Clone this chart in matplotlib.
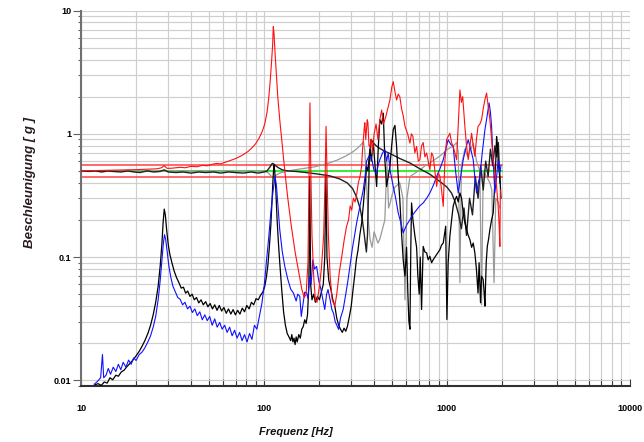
import numpy as np
import matplotlib
matplotlib.use("Agg")
import matplotlib.pyplot as plt
from matplotlib.ticker import LogLocator, FixedLocator, NullFormatter

plt.rcParams['font.family'] = ['Liberation Sans', 'DejaVu Sans']

# tolerance band and reference (g)
limit_hi = 0.56
limit_lo = 0.45
reference = 0.5
band_f = [10, 2000]

# control channel (black, smooth)
ctrl = [(10, 0.5), (11, 0.495), (12, 0.5), (13, 0.49), (14, 0.5), (15, 0.495), (16.5, 0.49),
        (18, 0.5), (19.5, 0.49), (21, 0.485), (23, 0.5), (25, 0.49), (27, 0.495), (28.5, 0.51),
        (30, 0.49), (33, 0.485), (36, 0.49), (40, 0.48), (44, 0.49), (48, 0.485), (53, 0.49),
        (58, 0.48), (64, 0.49), (70, 0.485), (77, 0.48), (85, 0.49), (93, 0.48), (100, 0.49),
        (104, 0.5), (108, 0.54), (111, 0.575), (113, 0.57), (116, 0.55), (120, 0.53), (126, 0.51),
        (135, 0.5), (150, 0.495), (170, 0.485), (200, 0.47), (230, 0.455), (260, 0.43), (285, 0.4),
        (305, 0.36), (320, 0.31), (335, 0.25), (345, 0.2), (352, 0.16), (358, 0.13), (363, 0.11),
        (368, 0.15), (373, 0.35), (378, 0.7), (385, 0.9), (395, 0.85), (410, 0.8), (430, 0.76),
        (460, 0.72), (500, 0.68), (553, 0.63), (628, 0.58), (712, 0.52), (807, 0.47), (916, 0.41),
        (1000, 0.37), (1061, 0.33), (1110, 0.28), (1160, 0.22), (1200, 0.17), (1240, 0.25),
        (1280, 0.15), (1330, 0.3), (1380, 0.22), (1430, 0.45), (1480, 0.3), (1530, 0.55),
        (1580, 0.35), (1630, 0.6), (1680, 0.45), (1730, 0.75), (1780, 0.55), (1830, 0.8),
        (1870, 0.65), (1910, 0.85), (1950, 0.4)]

# grey channel
grey = [(10, 0.5), (50, 0.5), (100, 0.5), (106, 0.48), (110, 0.45), (113, 0.44), (116, 0.46),
        (122, 0.48), (135, 0.5), (160, 0.52), (190, 0.54), (220, 0.57), (250, 0.61), (280, 0.66),
        (300, 0.7), (320, 0.75), (335, 0.8), (345, 0.84), (350, 0.86), (355, 0.75), (360, 0.55),
        (365, 0.35), (372, 0.2), (380, 0.14), (390, 0.12), (400, 0.16), (420, 0.13), (430, 0.14),
        (445, 0.17), (458, 0.2), (470, 0.6), (480, 0.25), (488, 0.27), (505, 0.33), (520, 0.37),
        (553, 0.4), (575, 0.3), (590, 0.045), (605, 0.3), (628, 0.45), (670, 0.48), (712, 0.51),
        (760, 0.55), (807, 0.58), (860, 0.62), (916, 0.66), (960, 0.7), (996, 0.74), (1040, 0.77),
        (1082, 0.79), (1130, 0.85), (1155, 0.7), (1178, 0.062), (1200, 0.55), (1254, 0.75),
        (1300, 0.65), (1393, 0.84), (1453, 0.6), (1515, 0.5), (1547, 0.041), (1579, 0.5),
        (1648, 0.45), (1718, 0.4), (1760, 0.35), (1810, 0.062), (1850, 0.3), (1907, 0.28),
        (1948, 0.25)]

# response channel 1 (black)
resp_black = [(11.9, 0.0092), (12.4, 0.0094), (12.9, 0.0091), (13.4, 0.0097), (13.9, 0.0095),
              (14.4, 0.0105), (14.9, 0.0101), (15.5, 0.011), (16.0, 0.0108), (16.6, 0.0117),
              (17.2, 0.0121), (17.8, 0.0129), (18.5, 0.0137), (19.2, 0.0146), (20.0, 0.0158),
              (20.8, 0.0172), (21.6, 0.019), (22.4, 0.0212), (23.2, 0.024), (24.0, 0.028),
              (24.8, 0.034), (25.6, 0.043), (26.4, 0.058), (27.1, 0.085), (27.7, 0.13), (28.1, 0.19),
              (28.5, 0.245), (28.9, 0.22), (29.4, 0.165), (30.0, 0.125), (30.6, 0.105), (31.4, 0.09),
              (32.3, 0.077), (33.3, 0.068), (34.3, 0.062), (35.3, 0.056), (36.3, 0.057), (37.3, 0.051),
              (38.3, 0.053), (39.4, 0.048), (40.5, 0.05), (41.6, 0.045), (42.8, 0.047), (44.0, 0.0425),
              (45.3, 0.045), (46.6, 0.041), (48.0, 0.0435), (49.4, 0.0395), (50.8, 0.042), (52.3, 0.038),
              (53.8, 0.041), (55.4, 0.037), (57.0, 0.0405), (58.7, 0.0365), (60.4, 0.039), (62.2, 0.035),
              (64.0, 0.038), (65.9, 0.0345), (67.8, 0.0375), (69.8, 0.034), (71.8, 0.037), (73.9, 0.0345),
              (76.1, 0.0385), (78.3, 0.036), (80.6, 0.0405), (83.0, 0.038), (85.4, 0.043), (87.9, 0.041),
              (90.5, 0.046), (93.1, 0.045), (95.8, 0.049), (98.6, 0.052), (101, 0.058), (103, 0.068),
              (105, 0.085), (107, 0.12), (109, 0.18), (110.5, 0.27), (112, 0.42), (113.3, 0.56),
              (114.5, 0.5), (116, 0.36), (118, 0.2), (120, 0.13), (122, 0.09), (125, 0.055), (128, 0.036),
              (131, 0.028), (134, 0.024), (137, 0.0225), (140, 0.021), (142, 0.0235), (144, 0.0205),
              (146, 0.022), (148, 0.0195), (150, 0.0225), (152, 0.0205), (155, 0.0235), (158, 0.022),
              (161, 0.026), (164, 0.0273), (167, 0.031), (170, 0.029), (173, 0.034), (176, 0.06),
              (178, 0.45), (180, 0.06), (183, 0.045), (187, 0.05), (191, 0.043), (196, 0.048),
              (201, 0.045), (206, 0.052), (211, 0.06), (215, 0.1), (218, 0.47), (221, 0.1), (226, 0.065),
              (232, 0.055), (238, 0.045), (244, 0.04), (250, 0.032), (256, 0.028), (262, 0.026),
              (268, 0.0245), (274, 0.0265), (280, 0.025), (286, 0.0275), (292, 0.032), (300, 0.04),
              (307, 0.055), (313, 0.07), (320, 0.095), (327, 0.115), (334, 0.15), (342, 0.189),
              (349, 0.26), (356, 0.374), (364, 0.543), (370, 0.5), (375, 0.62), (380, 0.75), (386, 0.6),
              (396, 0.84), (405, 0.55), (413, 0.374), (422, 0.8), (430, 1.3), (440, 1.2), (449, 1.47),
              (458, 0.616), (468, 0.374), (478, 0.45), (488, 0.543), (499, 0.8), (509, 1.08), (520, 1.17),
              (531, 0.79), (542, 0.45), (553, 0.29), (565, 0.157), (577, 0.095), (590, 0.07), (602, 0.12),
              (612, 0.05), (620, 0.03), (628, 0.026), (635, 0.12), (641, 0.275), (652, 0.2), (669, 0.147),
              (683, 0.12), (694, 0.07), (706, 0.05), (715, 0.1), (727, 0.0376), (742, 0.122), (758, 0.11),
              (775, 0.108), (790, 0.095), (807, 0.1015), (825, 0.09), (842, 0.0954), (860, 0.1),
              (879, 0.105), (897, 0.11), (916, 0.115), (935, 0.125), (955, 0.13), (975, 0.16),
              (985, 0.178), (1000, 0.0312), (1016, 0.09), (1038, 0.147), (1061, 0.2), (1082, 0.258),
              (1106, 0.29), (1130, 0.311), (1153, 0.28), (1178, 0.331), (1203, 0.3), (1228, 0.228),
              (1254, 0.19), (1282, 0.167), (1308, 0.15), (1336, 0.1385), (1365, 0.12), (1393, 0.13),
              (1422, 0.108), (1450, 0.08), (1480, 0.051), (1500, 0.09), (1527, 0.0426), (1547, 0.07),
              (1579, 0.0657), (1600, 0.05), (1614, 0.04), (1640, 0.09), (1663, 0.122), (1690, 0.14),
              (1718, 0.167), (1755, 0.2), (1791, 0.228), (1829, 0.4), (1850, 0.6), (1869, 0.95),
              (1890, 0.8), (1907, 0.616), (1930, 0.5), (1948, 0.451), (1975, 0.3)]

# response channel 2 (blue)
resp_blue = [(11.8, 0.0093), (12.3, 0.0098), (12.8, 0.0105), (13.1, 0.0162), (13.3, 0.0105),
             (13.7, 0.011), (14.1, 0.0125), (14.5, 0.0112), (15.0, 0.0128), (15.5, 0.0118),
             (16.0, 0.0135), (16.5, 0.0122), (17.0, 0.014), (17.6, 0.0128), (18.2, 0.0146),
             (18.8, 0.0135), (19.4, 0.0152), (20.0, 0.0145), (20.8, 0.0162), (21.6, 0.017),
             (22.4, 0.0185), (23.2, 0.0205), (24.0, 0.023), (24.8, 0.027), (25.6, 0.033), (26.4, 0.045),
             (27.1, 0.065), (27.7, 0.095), (28.2, 0.13), (28.6, 0.152), (29.0, 0.14), (29.6, 0.11),
             (30.2, 0.085), (31.0, 0.068), (31.8, 0.058), (32.8, 0.052), (33.8, 0.047), (34.8, 0.0455),
             (35.9, 0.041), (37.0, 0.043), (38.2, 0.038), (39.4, 0.04), (40.6, 0.0355), (41.9, 0.038),
             (43.2, 0.0335), (44.6, 0.036), (46.0, 0.031), (47.5, 0.034), (49.0, 0.0305), (50.5, 0.033),
             (52.1, 0.028), (53.8, 0.0315), (55.5, 0.027), (57.3, 0.0295), (59.1, 0.026), (61.0, 0.028),
             (62.9, 0.0245), (64.9, 0.027), (67.0, 0.023), (69.1, 0.0255), (71.3, 0.022), (73.6, 0.0245),
             (75.9, 0.021), (78.3, 0.0235), (80.8, 0.0205), (83.4, 0.024), (86.0, 0.0215), (88.7, 0.028),
             (91.5, 0.026), (94.4, 0.033), (97.4, 0.042), (100.5, 0.06), (103, 0.09), (106, 0.14),
             (109, 0.228), (112, 0.34), (115, 0.45), (117, 0.38), (119, 0.27), (122, 0.167), (126, 0.11),
             (130, 0.084), (135, 0.066), (140, 0.055), (145, 0.051), (150, 0.044), (153, 0.05),
             (157, 0.048), (160, 0.033), (163, 0.04), (167, 0.052), (171, 0.051), (174, 0.046),
             (178, 0.07), (181, 0.06), (185, 0.095), (189, 0.08), (194, 0.084), (199, 0.065),
             (205, 0.0545), (210, 0.045), (215, 0.0376), (220, 0.05), (224, 0.0545), (230, 0.045),
             (235, 0.0376), (240, 0.035), (245, 0.03), (250, 0.028), (256, 0.0259), (262, 0.032),
             (271, 0.0376), (280, 0.05), (288, 0.065), (295, 0.084), (305, 0.12), (313, 0.15),
             (321, 0.189), (335, 0.26), (349, 0.352), (357, 0.45), (364, 0.6), (375, 0.66), (386, 0.655),
             (400, 0.5), (413, 0.48), (420, 0.55), (430, 0.616), (445, 0.7), (458, 0.742), (468, 0.6),
             (478, 0.698), (490, 0.5), (509, 0.374), (525, 0.3), (542, 0.228), (560, 0.19), (577, 0.157),
             (600, 0.18), (628, 0.201), (650, 0.22), (683, 0.242), (710, 0.26), (742, 0.275), (775, 0.3),
             (807, 0.331), (842, 0.38), (879, 0.451), (916, 0.52), (955, 0.616), (985, 0.75),
             (1016, 0.894), (1050, 0.82), (1082, 0.79), (1115, 0.5), (1153, 0.331), (1190, 0.45),
             (1228, 0.616), (1265, 0.75), (1308, 0.894), (1350, 0.75), (1393, 0.616), (1420, 0.45),
             (1453, 0.331), (1485, 0.4), (1515, 0.451), (1560, 0.7), (1614, 1.08), (1660, 1.4),
             (1700, 1.78), (1730, 1.5), (1755, 1.15), (1790, 0.6), (1829, 0.331), (1870, 0.45),
             (1907, 0.616), (1948, 0.48), (1975, 0.55)]

# response channel 3 (red)
resp_red = [(10, 0.5), (12, 0.503), (14, 0.505), (16, 0.507), (18, 0.51), (20, 0.512), (22, 0.515),
            (24, 0.517), (26, 0.52), (27.5, 0.53), (28.5, 0.55), (29.5, 0.525), (31, 0.525), (33, 0.53),
            (35, 0.535), (37, 0.53), (40, 0.545), (43, 0.54), (46, 0.555), (49, 0.55), (52, 0.565),
            (55, 0.575), (58, 0.57), (61, 0.585), (64, 0.6), (67, 0.615), (70, 0.63), (74, 0.655),
            (78, 0.685), (82, 0.72), (86, 0.77), (90, 0.83), (94, 0.92), (98, 1.05), (101, 1.2),
            (104, 1.5), (106, 1.9), (108, 2.6), (110, 3.8), (111.5, 5.2), (112.5, 7.4), (113.5, 6.5),
            (115, 4.5), (117, 3.0), (119, 2.0), (122, 1.3), (126, 0.8), (130, 0.5), (135, 0.3),
            (141, 0.18), (148, 0.11), (155, 0.075), (161, 0.055), (166, 0.047), (170, 0.05), (174, 0.09),
            (176.5, 0.5), (178.4, 1.78), (180, 0.6), (183, 0.15), (187, 0.07), (191, 0.045), (195, 0.043),
            (200, 0.055), (206, 0.08), (212, 0.15), (216, 0.45), (218.5, 1.15), (221, 0.5), (225, 0.15),
            (230, 0.07), (236, 0.045), (244, 0.04), (250, 0.05), (258, 0.075), (266, 0.1), (275, 0.14),
            (283, 0.178), (290, 0.2), (296, 0.26), (302, 0.24), (308, 0.3), (315, 0.28), (321, 0.32),
            (328, 0.4), (335, 0.45), (342, 0.55), (346, 0.75), (349, 0.894), (353, 1.1), (356, 1.23),
            (360, 0.9), (364, 1.1), (367, 1.3), (370, 1.23), (375, 0.8), (380, 0.79), (386, 0.9),
            (392, 0.7), (400, 1.0), (410, 1.2), (420, 0.9), (430, 1.3), (440, 1.56), (450, 1.2),
            (463, 1.37), (475, 1.6), (488, 1.88), (500, 2.4), (509, 2.65), (520, 2.2), (531, 1.88),
            (542, 2.1), (553, 2.0), (565, 1.6), (577, 1.4), (590, 1.15), (610, 1.0), (628, 0.84),
            (640, 1.0), (652, 0.95), (668, 0.7), (683, 0.79), (698, 0.6), (712, 0.616), (727, 0.8),
            (742, 0.85), (758, 0.65), (775, 0.698), (790, 0.6), (807, 0.511), (825, 0.7), (842, 0.655),
            (860, 0.5), (879, 0.374), (897, 0.48), (916, 0.451), (935, 0.35), (955, 0.258), (975, 0.6),
            (996, 0.894), (1016, 0.95), (1038, 1.01), (1060, 0.85), (1082, 0.79), (1106, 0.7),
            (1130, 0.616), (1155, 1.2), (1178, 2.27), (1200, 1.8), (1220, 2.0), (1237, 1.5),
            (1254, 1.15), (1280, 0.8), (1308, 0.616), (1336, 0.8), (1365, 1.01), (1393, 0.8),
            (1422, 0.655), (1450, 0.9), (1480, 1.15), (1515, 1.2), (1547, 1.3), (1580, 1.6),
            (1615, 1.9), (1648, 2.14), (1680, 1.7), (1718, 1.3), (1755, 0.9), (1791, 0.616),
            (1830, 0.5), (1869, 0.374), (1907, 0.258), (1930, 0.18), (1948, 0.122), (1960, 0.35)]

x_ticks = [10, 100, 1000, 10000]
x_labels = ["10", "100", "1000", "10000"]
y_ticks = [0.01, 0.1, 1, 10]
y_labels = ["0.01", "0.1", "1", "10"]


def xy(pts):
    a = np.array(pts)
    return a[:, 0], a[:, 1]


fig = plt.figure(figsize=(6.44, 4.42), dpi=100)
ax = fig.add_axes([0.1258, 0.1267, 0.8522, 0.8495])
ax.set_xscale("log")
ax.set_yscale("log")
ax.set_xlim(10, 10000)
ax.set_ylim(0.009, 10)

ax.grid(True, which="both", color="#cfcfcf", lw=0.85)
ax.set_axisbelow(True)

ax.plot(band_f, [limit_hi, limit_hi], color="#ff4040", lw=1.1, zorder=2)
ax.plot(band_f, [limit_lo, limit_lo], color="#ff4040", lw=1.1, zorder=2)
ax.plot(band_f, [reference, reference], color="#33ee33", lw=1.4, zorder=2)

ax.plot(*xy(grey), color="#999999", lw=0.9, zorder=3)
ax.plot(*xy(ctrl), color="#202020", lw=1.0, zorder=4)
ax.plot(*xy(resp_black), color="black", lw=0.9, zorder=5)
ax.plot(*xy(resp_blue), color="#1010ff", lw=0.8, zorder=6)
ax.plot(*xy(resp_red), color="#ff1010", lw=0.8, zorder=7)

ax.xaxis.set_major_locator(FixedLocator(x_ticks))
ax.set_xticklabels(x_labels)
ax.yaxis.set_major_locator(FixedLocator(y_ticks))
ax.set_yticklabels(y_labels)
ax.xaxis.set_minor_locator(LogLocator(base=10, subs=np.arange(2, 10)))
ax.yaxis.set_minor_locator(LogLocator(base=10, subs=np.arange(2, 10)))
ax.xaxis.set_minor_formatter(NullFormatter())
ax.yaxis.set_minor_formatter(NullFormatter())

for lab in ax.get_xticklabels() + ax.get_yticklabels():
    lab.set_fontweight("bold")
    lab.set_fontsize(6.5)

ax.tick_params(axis="x", which="both", direction="in", length=5, width=0.8,
               color="#404040", pad=13)
ax.tick_params(axis="y", which="major", direction="out", length=6, width=0.8,
               color="#606060", pad=1)
ax.tick_params(axis="y", which="minor", direction="out", length=2.5, width=0.8,
               color="#606060")

ax.spines["top"].set_visible(False)
ax.spines["right"].set_visible(False)
ax.spines["left"].set_color("#707070")
ax.spines["left"].set_linewidth(1.5)
ax.spines["bottom"].set_color("#303030")
ax.spines["bottom"].set_linewidth(1.5)

fig.text(0.46, 0.023, "Frequenz [Hz]", fontsize=8, fontweight="bold",
         fontstyle="italic", ha="center", va="center", color="#111111")
fig.text(0.047, 0.586, "Beschleunigung [ g ]", fontsize=9.5, fontweight="bold",
         fontstyle="italic", ha="center", va="center", rotation=90, color="#2a1a22")

fig.savefig("out.png", dpi=100)
